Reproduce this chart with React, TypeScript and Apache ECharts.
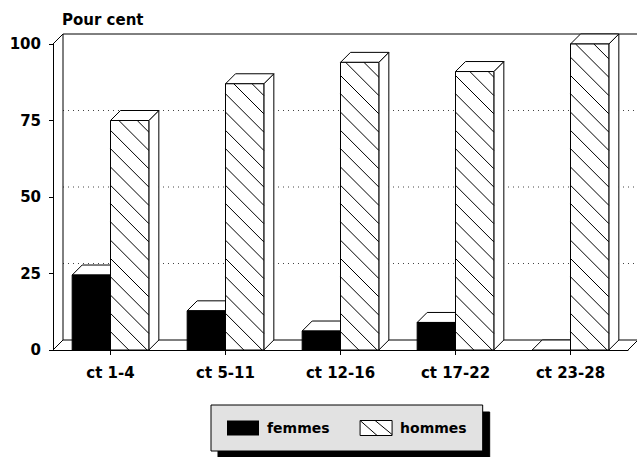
import React, { useEffect, useRef } from 'react';
import * as echarts from 'echarts';

const categories = ['ct 1-4', 'ct 5-11', 'ct 12-16', 'ct 17-22', 'ct 23-28'];
const femmes = [24.5, 12.8, 6.2, 9, 0];
const hommes = [75, 87, 94, 91, 100];
const yMin = 0;
const yMax = 100;
const yStep = 25;
const backGridValues = [25, 50, 75];

const DEPTH = 10;
const HATCH = 18.3;
const FONT = 'DejaVu Sans';

function barRenderer(kind: 'f' | 'h') {
  return (params: any, api: any) => {
    const idx = api.value(0);
    const v = api.value(1);
    const band = api.size([1, 0])[0];
    const w = band / 3;
    const base = api.coord([idx, 0]);
    const topP = api.coord([idx, v]);
    const cx = base[0];
    const xl = kind === 'f' ? cx - w : cx;
    const xr = xl + w;
    const yb = base[1];
    const yt = topP[1];
    const D = DEPTH;
    const st = { stroke: '#000', lineWidth: 1 };
    const children: any[] = [
      {
        type: 'polygon',
        shape: { points: [[xr, yb], [xr + D, yb - D], [xr + D, yt - D], [xr, yt]] },
        style: { fill: '#fff', ...st },
      },
      {
        type: 'polygon',
        shape: { points: [[xl, yt], [xr, yt], [xr + D, yt - D], [xl + D, yt - D]] },
        style: { fill: '#fff', ...st },
      },
    ];
    if (yb - yt > 0.5) {
      children.push({
        type: 'rect',
        shape: { x: xl, y: yt, width: w, height: yb - yt },
        style: { fill: kind === 'f' ? '#000' : '#fff', ...st },
      });
    }
    if (kind === 'h') {
      for (let d = yb - xl - HATCH; d > yt - xr; d -= HATCH) {
        const x1 = Math.max(xl, yt - d);
        const x2 = Math.min(xr, yb - d);
        if (x2 - x1 > 0.5) {
          children.push({
            type: 'line',
            shape: { x1, y1: x1 + d, x2, y2: x2 + d },
            style: { stroke: '#000', lineWidth: 1 },
          });
        }
      }
    }
    return { type: 'group', children };
  };
}

function frameRenderer(params: any, api: any) {
  const cs = params.coordSys;
  const L = cs.x;
  const R = cs.x + cs.width;
  const T = cs.y;
  const B = cs.y + cs.height;
  const D = DEPTH;
  const st = { stroke: '#000', lineWidth: 1 };
  const children: any[] = [];
  backGridValues.forEach((v) => {
    const y = api.coord([0, v])[1] - D;
    children.push({
      type: 'line',
      shape: { x1: L + D, y1: y, x2: R + D, y2: y },
      style: { stroke: '#444', lineWidth: 1, lineDash: [1, 4] },
    });
  });
  children.push(
    { type: 'line', shape: { x1: L + D, y1: T - D, x2: R + D, y2: T - D }, style: st },
    { type: 'line', shape: { x1: L + D, y1: B - D, x2: L + D, y2: T - D }, style: st },
    { type: 'line', shape: { x1: L, y1: T, x2: L + D, y2: T - D }, style: st },
    { type: 'line', shape: { x1: L, y1: B, x2: L + D, y2: B - D }, style: st },
    { type: 'line', shape: { x1: L + D, y1: B - D, x2: R + D, y2: B - D }, style: st },
    { type: 'line', shape: { x1: R, y1: B, x2: R + D, y2: B - D }, style: st }
  );
  return { type: 'group', children };
}

export default function App() {
  const ref = useRef<HTMLDivElement>(null);
  useEffect(() => {
    if (!ref.current) return;
    const chart = echarts.init(ref.current, undefined, { renderer: 'svg' });
    const labelStyle = { fontFamily: FONT, fontWeight: 'bold' as const, fontSize: 15, color: '#000' };
    chart.setOption({
      animation: false,
      backgroundColor: '#fff',
      title: {
        text: 'Pour cent',
        left: 62,
        top: 12,
        padding: 0,
        textStyle: { ...labelStyle, lineHeight: 16 },
      },
      grid: { left: 53, top: 44, width: 575, height: 306, containLabel: false },
      xAxis: {
        type: 'category',
        data: categories,
        axisLine: { show: true, lineStyle: { color: '#000', width: 1 } },
        axisTick: { show: true, alignWithLabel: true, length: 5, lineStyle: { color: '#000' } },
        axisLabel: { ...labelStyle, margin: 15 },
        splitLine: { show: false },
      },
      yAxis: {
        type: 'value',
        min: yMin,
        max: yMax,
        interval: yStep,
        axisLine: { show: true, lineStyle: { color: '#000', width: 1 } },
        axisTick: { show: true, length: 4, lineStyle: { color: '#000' } },
        axisLabel: { ...labelStyle, margin: 12 },
        splitLine: { show: false },
      },
      legend: {
        left: 211,
        top: 405,
        orient: 'horizontal',
        padding: [15, 16],
        itemGap: 30,
        itemWidth: 32,
        itemHeight: 15,
        backgroundColor: '#e2e2e2',
        borderColor: '#000',
        borderWidth: 1,
        shadowColor: '#000',
        shadowBlur: 0,
        shadowOffsetX: 7,
        shadowOffsetY: 7,
        textStyle: { fontFamily: FONT, fontWeight: 'bold', fontSize: 14, color: '#000', padding: [0, 0, 0, 3] },
        selectedMode: false,
        data: [
          { name: 'femmes', icon: 'rect', itemStyle: { color: '#000', borderWidth: 0 } },
          {
            name: 'hommes',
            icon: 'path://M0,0 L32,0 L32,15 L0,15 Z M0,0 L17,15 M15,0 L32,14',
            itemStyle: { color: '#fff', borderColor: '#000', borderWidth: 1 },
          },
        ],
      },
      series: [
        {
          type: 'custom',
          name: 'frame',
          silent: true,
          z: 1,
          renderItem: frameRenderer,
          data: [[0, 0]],
        },
        {
          type: 'custom',
          name: 'femmes',
          z: 2,
          silent: true,
          itemStyle: { color: '#000' },
          renderItem: barRenderer('f'),
          data: femmes.map((v, i) => [i, v]),
        },
        {
          type: 'custom',
          name: 'hommes',
          z: 3,
          silent: true,
          itemStyle: { color: '#fff', borderColor: '#000' },
          renderItem: barRenderer('h'),
          data: hommes.map((v, i) => [i, v]),
        },
      ],
    });
    return () => chart.dispose();
  }, []);
  return (
    <div
      ref={ref}
      style={{ position: 'fixed', left: 0, top: 0, width: 637, height: 457, background: '#fff' }}
    />
  );
}
